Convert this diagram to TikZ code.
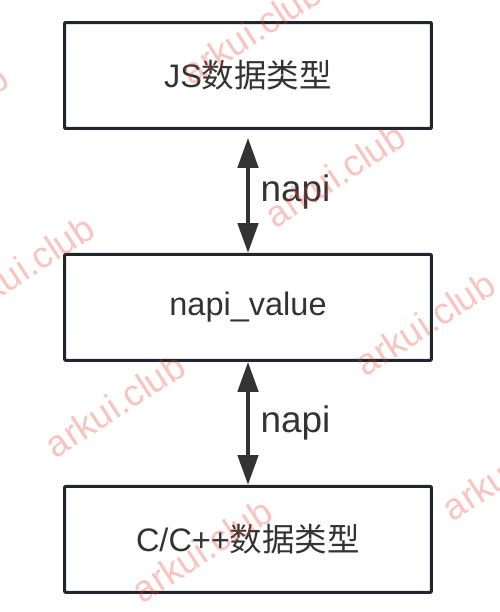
\documentclass[tikz,border=0pt]{standalone}
\usepackage{fontspec}
\setmainfont{Liberation Sans}
\newfontfamily\cjk{Noto Sans CJK SC}
\usetikzlibrary{arrows.meta,positioning}
\definecolor{boxline}{HTML}{1F2630}
\definecolor{inkgray}{HTML}{333333}
\definecolor{markred}{RGB}{235,60,40}

\begin{document}
\begin{tikzpicture}[x=0.02cm,y=-0.02cm,>={Triangle[length=17pt,width=11.5pt]},line cap=round,
  box/.style={draw=boxline,line width=1.7pt,rounded corners=0.6pt,minimum width=7.34cm,minimum height=2.12cm,text=inkgray,font=\fontsize{18.5}{22}\selectfont},
  link/.style={<->,draw=inkgray,line width=2.3pt},
  tag/.style={midway,right,inner sep=0pt,xshift=6pt,text=inkgray,font=\fontsize{21}{25}\selectfont},
  wm/.style={rotate=33,text=markred,text opacity=0.3,font=\fontsize{21}{25}\selectfont}]
\useasboundingbox (0,0) rectangle (500,612);
\node[box] (jstype) at (248,75.5) {JS{\cjk 数据类型}};
\node[box,below=2.46cm of jstype] (value) {napi\_value};
\node[box,below=2.46cm of value] (ctype) {C/C++{\cjk 数据类型}};
\draw[link,shorten <=4.5pt] (jstype) -- node[tag] (tagtop) {napi} (value);
\draw[link] (value) -- node[tag] (tagbot) {napi} (ctype);
% watermark
\foreach \px/\py [count=\i] in {251/32,-62/117,335/175,24/267,425/323,115/405,202/550,512/468}
  \node[wm] (mark\i) at (\px,\py) {arkui.club};
\end{tikzpicture}
\end{document}
